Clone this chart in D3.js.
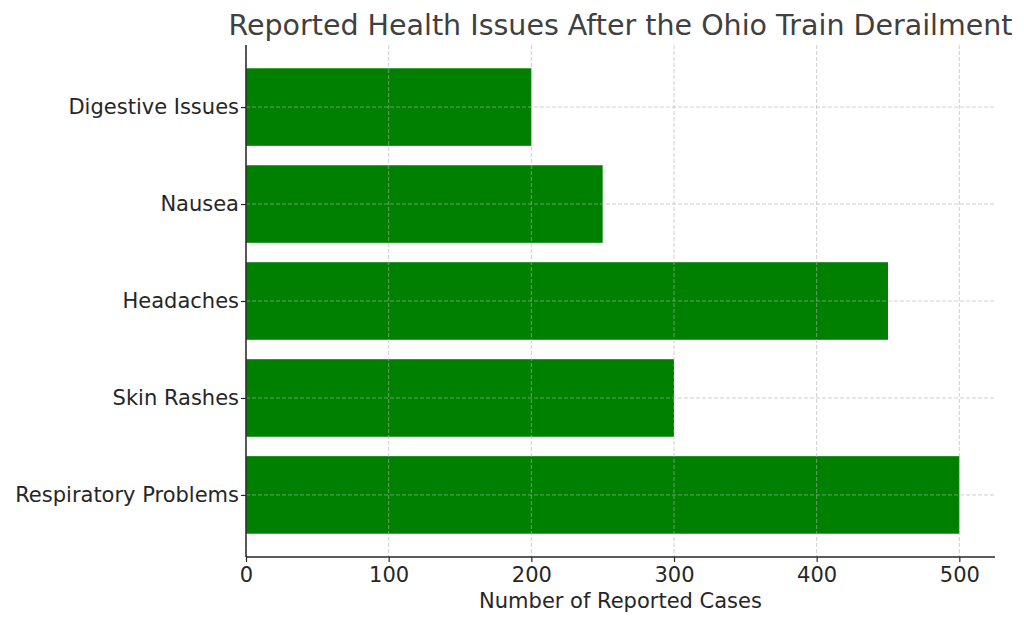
<!DOCTYPE html>
<html>
<head>
<meta charset="utf-8">
<script src="https://cdn.jsdelivr.net/npm/d3@7"></script>
<style>
  body { margin: 0; background: #fff; }
  text { font-family: "DejaVu Sans", sans-serif; fill: #262626; }
</style>
</head>
<body>
<div id="chart"></div>
<script>
const categories = ["Respiratory Problems", "Skin Rashes", "Headaches", "Nausea", "Digestive Issues"]
const cases = [500, 300, 450, 250, 200]
const xTicks = [0, 100, 200, 300, 400, 500]

const width = 1024, height = 625
const margin = { top: 45, right: 29, bottom: 68, left: 246 }
const w = width - margin.left - margin.right
const h = height - margin.top - margin.bottom

const svg = d3.select("#chart").append("svg")
    .attr("width", width)
    .attr("height", height)

const g = svg.append("g")
    .attr("transform", "translate(" + margin.left + "," + margin.top + ")")

const x = d3.scaleLinear().domain([0, 525]).range([0, w])
// matplotlib style: index positions, bar height 0.8, 5% margins
const y = d3.scaleLinear().domain([-0.64, categories.length - 1 + 0.64]).range([h, 0])
const barH = y(0) - y(0.8)

// bars
g.selectAll(".bar")
    .data(categories)
    .enter().append("rect")
    .attr("class", "bar")
    .attr("x", x(0))
    .attr("y", function (d, i) { return y(i + 0.4) })
    .attr("width", function (d, i) { return x(cases[i]) - x(0) })
    .attr("height", barH)
    .style("fill", "#008000")

// grid, drawn on top of bars
const grid = g.append("g").attr("class", "grid")
grid.selectAll(".vgrid")
    .data(xTicks)
    .enter().append("line")
    .attr("x1", d => x(d)).attr("x2", d => x(d))
    .attr("y1", 0).attr("y2", h)
grid.selectAll(".hgrid")
    .data(categories)
    .enter().append("line")
    .attr("x1", 0).attr("x2", w)
    .attr("y1", (d, i) => y(i)).attr("y2", (d, i) => y(i))
grid.selectAll("line")
    .style("stroke", "#b0b0b0")
    .style("stroke-opacity", 0.6)
    .style("stroke-width", 1)
    .style("stroke-dasharray", "4,2")

// x axis
const xAxis = g.append("g")
    .attr("transform", "translate(0," + h + ")")
    .call(d3.axisBottom(x).tickValues(xTicks).tickSize(5).tickPadding(5).tickSizeOuter(0))
xAxis.select(".domain").attr("d", "M0,0H" + w).style("stroke", "#262626").style("stroke-width", 1.5)
xAxis.selectAll(".tick line").style("stroke", "#262626").style("stroke-width", 1.2)
xAxis.selectAll("text").style("font-size", "21px").style("fill", "#262626")
xAxis.attr("font-family", null)

// y axis
const yAxis = g.append("g")
    .call(d3.axisLeft(y).tickValues(d3.range(categories.length))
        .tickFormat(i => categories[i]).tickSize(5).tickPadding(2).tickSizeOuter(0))
yAxis.select(".domain").attr("d", "M0," + h + "V0").style("stroke", "#262626").style("stroke-width", 1.5)
yAxis.selectAll(".tick line").style("stroke", "#262626").style("stroke-width", 1.2)
yAxis.selectAll("text").style("font-size", "21px").style("fill", "#262626")
yAxis.attr("font-family", null)

// title
svg.append("text")
    .attr("x", margin.left + w / 2)
    .attr("y", 35)
    .attr("text-anchor", "middle")
    .style("font-size", "28.5px")
    .style("fill", "#404040")
    .text("Reported Health Issues After the Ohio Train Derailment")

// x label
svg.append("text")
    .attr("x", margin.left + w / 2)
    .attr("y", 608)
    .attr("text-anchor", "middle")
    .style("font-size", "21px")
    .text("Number of Reported Cases")
</script>
</body>
</html>
